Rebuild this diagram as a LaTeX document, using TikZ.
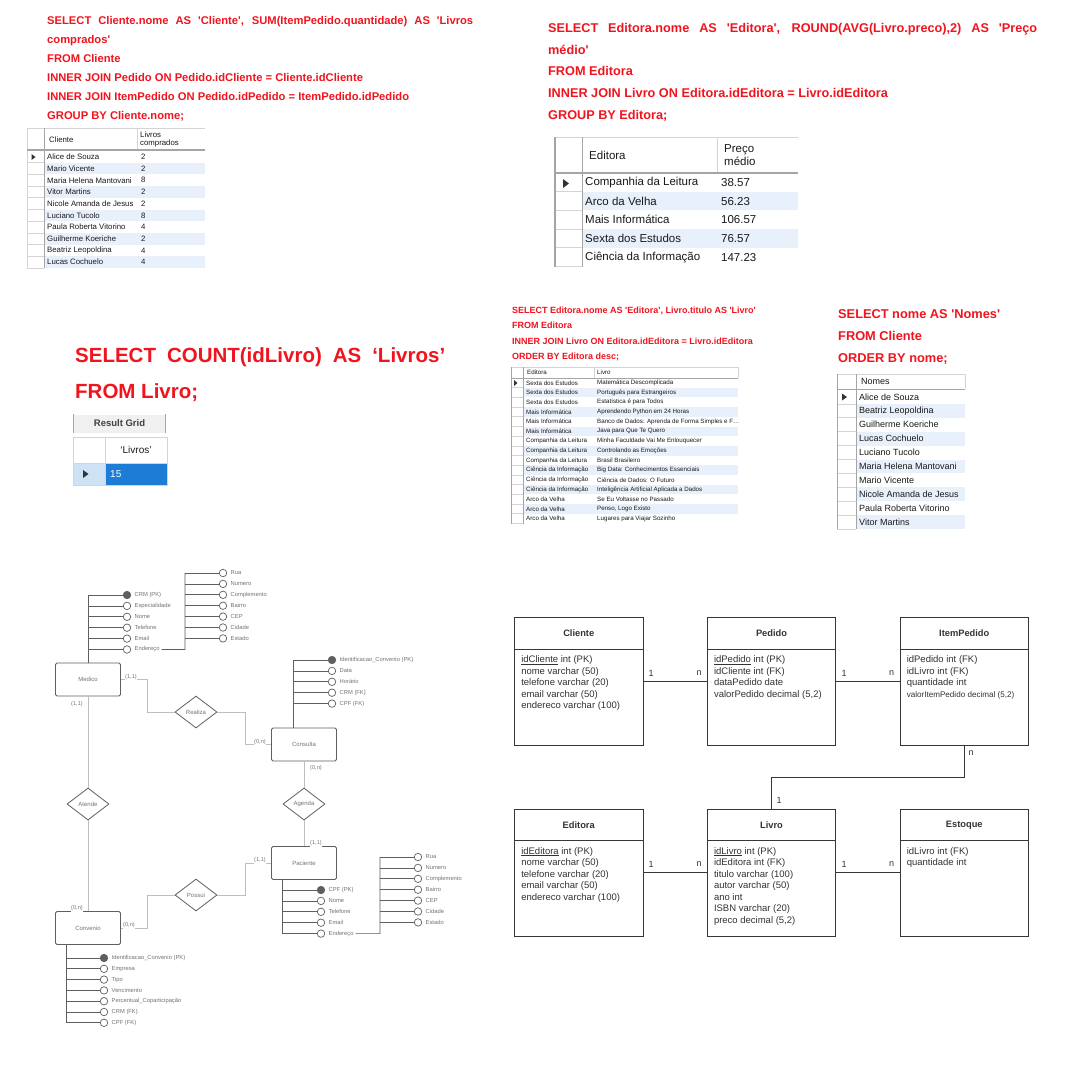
\documentclass[tikz,border=0pt]{standalone}
\usepackage{fontspec}
\newfontfamily\lib{Liberation Sans}
\usetikzlibrary{shapes.geometric}
\definecolor{sqlred}{RGB}{240,20,30}
\definecolor{rowblue}{RGB}{232,240,251}
\definecolor{gridln}{RGB}{212,212,212}
\definecolor{hdrln}{RGB}{165,165,165}
\definecolor{selblue}{RGB}{28,124,214}
\definecolor{indblue}{RGB}{206,226,245}
\definecolor{erdark}{RGB}{95,95,95}
\definecolor{errel}{RGB}{190,190,190}
\definecolor{ertext}{RGB}{115,115,115}
\definecolor{tbltext}{RGB}{25,25,25}
\definecolor{mline}{RGB}{55,55,55}
\begin{document}
\begin{tikzpicture}[x=1pt,y=-1pt,font=\lib,
  sqlbase/.style={anchor=base west,inner sep=0pt,text=sqlred},
  sqlA/.style={sqlbase,font=\lib\bfseries\fontsize{11.2}{13}\selectfont},
  sqlB/.style={sqlbase,font=\lib\bfseries\fontsize{12.7}{15}\selectfont},
  sqlC/.style={sqlbase,font=\lib\bfseries\fontsize{20.5}{23}\selectfont},
  sqlD/.style={sqlbase,font=\lib\bfseries\fontsize{9}{11}\selectfont},
  sqlE/.style={sqlbase,font=\lib\bfseries\fontsize{12.8}{15}\selectfont},
  cellA/.style={anchor=west,inner sep=0pt,text=tbltext,font=\lib\fontsize{7.8}{8.8}\selectfont},
  cellB/.style={anchor=west,inner sep=0pt,text=tbltext,font=\lib\fontsize{11.5}{13}\selectfont},
  cellD/.style={anchor=west,inner sep=0pt,text=tbltext,font=\lib\fontsize{6.2}{7}\selectfont},
  cellE/.style={anchor=west,inner sep=0pt,text=tbltext,font=\lib\fontsize{9}{10}\selectfont},
  gridl/.style={draw=gridln,line width=0.7pt},
  hgrid/.style={draw=hdrln,line width=1.2pt},
  ptr/.style={fill=black!80},
  ent/.style={draw=erdark,line width=0.8pt,rounded corners=1.5pt,minimum width=65pt,minimum height=33pt,inner sep=0pt,text=ertext,font=\lib\fontsize{6}{7}\selectfont},
  rel/.style={diamond,aspect=1.3,draw=erdark,line width=0.8pt,minimum width=42pt,minimum height=32pt,inner sep=0pt,text=ertext,font=\lib\fontsize{6}{7}\selectfont},
  attr/.style={circle,draw=erdark,fill=white,line width=0.7pt,minimum size=7.5pt,inner sep=0pt},
  pk/.style={attr,fill=erdark},
  alab/.style={anchor=west,inner sep=0pt,text=ertext,font=\lib\fontsize{5.8}{7}\selectfont},
  card/.style={inner sep=0.6pt,fill=white,text=ertext,font=\lib\fontsize{5.6}{7}\selectfont},
  erl/.style={draw=erdark,line width=0.7pt},
  rell/.style={draw=errel,line width=0.8pt},
  tbl/.style={draw=mline,line width=0.9pt,minimum width=128.5pt,minimum height=127.5pt,inner sep=0pt},
  ttl/.style={inner sep=0pt,text=black!80,font=\lib\bfseries\fontsize{9.3}{11}\selectfont},
  fld/.style={anchor=north west,inner sep=0pt,align=left,text=black!80,font=\lib\fontsize{9.5}{11.5}\selectfont},
  card2/.style={inner sep=0pt,text=black!80,font=\lib\fontsize{9}{11}\selectfont},
  rline/.style={draw=mline,line width=0.9pt}
]
\useasboundingbox[fill=white] (0,0) rectangle (1080,1080);

% ================= Query 1 (top left)
\node[sqlA] (q1a) at (47,24) {\makebox[426pt][s]{SELECT Cliente.nome AS 'Cliente', SUM(ItemPedido.quantidade) AS 'Livros}};
\node[sqlA] (q1b) at (47,43) {comprados'};
\node[sqlA] (q1c) at (47,62) {FROM Cliente};
\node[sqlA] (q1d) at (47,81) {INNER JOIN Pedido ON Pedido.idCliente = Cliente.idCliente};
\node[sqlA] (q1e) at (47,100) {INNER JOIN ItemPedido ON Pedido.idPedido = ItemPedido.idPedido};
\node[sqlA] (q1f) at (47,119) {GROUP BY Cliente.nome;};

\foreach \i in {2,4,6,8,10} \fill[rowblue] (44,{151+11.7*(\i-1)}) rectangle (205,{151+11.7*\i});
\draw[gridl] (27,128) -- (205,128);
\draw[gridl] (27,128) -- (27,268);
\draw[gridl] (137,128) -- (137,150);
\foreach \i in {1,...,10} \draw[gridl] (27,{151+11.7*\i}) -- (44,{151+11.7*\i});
\draw[hgrid] (27,150) -- (205,150);
\draw[draw=hdrln,line width=0.9pt] (44,128) -- (44,268);
\fill[ptr] (31.5,154) -- (35.5,157) -- (31.5,160) -- cycle;
\node[cellA] (t1h1) at (49,139.5) {Cliente};
\node[cellA,align=left] (t1h2) at (140,139.5) {Livros\\comprados};
\foreach \n/\v [count=\i] in {Alice de Souza/2,Mario Vicente/2,Maria Helena Mantovani/8,Vitor Martins/2,Nicole Amanda de Jesus/2,Luciano Tucolo/8,Paula Roberta Vitorino/4,Guilherme Koeriche/2,Beatriz Leopoldina/4,Lucas Cochuelo/4}{
  \node[cellA] (t1n\i) at (47,{151+11.7*(\i-0.5)}) {\n};
  \node[cellA] (t1v\i) at (141,{151+11.7*(\i-0.5)}) {\v};
}

% ================= Query 2 (top right)
\node[sqlB] (q2a) at (548,32.5) {\makebox[489pt][s]{SELECT Editora.nome AS 'Editora', ROUND(AVG(Livro.preco),2) AS 'Preço}};
\node[sqlB] (q2b) at (548,54) {médio'};
\node[sqlB] (q2c) at (548,75.5) {FROM Editora};
\node[sqlB] (q2d) at (548,97.5) {INNER JOIN Livro ON Editora.idEditora = Livro.idEditora};
\node[sqlB] (q2e) at (548,119.5) {GROUP BY Editora;};

\foreach \i in {2,4} \fill[rowblue] (582,{173+18.7*(\i-1)}) rectangle (798,{173+18.7*\i});
\draw[gridl] (555,137) -- (798,137);
\draw[gridl] (717,137) -- (717,173);
\foreach \i in {1,...,5} \draw[gridl] (555,{173+18.7*\i}) -- (582,{173+18.7*\i});
\draw[hgrid] (555,173) -- (798,173);
\draw[hgrid] (555,137) -- (555,267);
\draw[draw=hdrln,line width=1pt] (582,137) -- (582,267);
\fill[ptr] (563,179) -- (569,183.5) -- (563,188) -- cycle;
\node[cellB] (t2h1) at (589,155) {Editora};
\node[cellB,align=left] (t2h2) at (724,155) {Preço\\médio};
\foreach \n/\v [count=\i] in {Companhia da Leitura/38.57,Arco da Velha/56.23,Mais Informática/106.57,Sexta dos Estudos/76.57,Ciência da Informação/147.23}{
  \node[cellB] (t2n\i) at (585,{173+18.7*(\i-0.5)}) {\n};
  \node[cellB] (t2v\i) at (721,{173+18.7*(\i-0.5)}) {\v};
}

% ================= Query 3 (middle left)
\node[sqlC] (q3a) at (75,362) {\makebox[370pt][s]{SELECT COUNT(idLivro) AS ‘Livros’}};
\node[sqlC] (q3b) at (75,398) {FROM Livro;};
\node[fill=black!6,minimum width=91pt,minimum height=18pt,inner sep=0pt,text=black!75,font=\lib\bfseries\fontsize{9.5}{11}\selectfont] (rg) at (119.5,423.5) {Result Grid};
\draw[draw=hdrln,line width=1pt] (rg.north west) -- (rg.south west);
\draw[draw=hdrln,line width=1pt] (rg.north east) -- (rg.south east);
\fill[indblue] (73,463) rectangle (105,485);
\fill[selblue] (105,463) rectangle (167,485);
\draw[gridl] (73,437) rectangle (167,485);
\draw[gridl] (105,437) -- (105,485);
\draw[gridl] (73,463) -- (167,463);
\node[inner sep=0pt,text=tbltext,font=\lib\fontsize{10}{12}\selectfont] (lvh) at (136,450) {‘Livros’};
\node[inner sep=0pt,anchor=west,text=white,font=\lib\fontsize{10}{12}\selectfont] (v15) at (110,474.5) {15};
\fill[ptr] (83,470) -- (88.5,474) -- (83,478) -- cycle;

% ================= Query 4 (middle centre)
\node[sqlD] (q4a) at (512,313) {SELECT Editora.nome AS 'Editora', Livro.titulo AS 'Livro'};
\node[sqlD] (q4b) at (512,328.5) {FROM Editora};
\node[sqlD] (q4c) at (512,344) {INNER JOIN Livro ON Editora.idEditora = Livro.idEditora};
\node[sqlD] (q4d) at (512,359.5) {ORDER BY Editora desc;};
\foreach \i in {2,4,...,14} \fill[rowblue] (523,{378+9.7*(\i-1)}) rectangle (738,{378+9.7*\i});
\draw[gridl] (511,367) -- (738,367);
\draw[gridl] (594,367) -- (594,378);
\draw[gridl] (738,367) -- (738,378);
\foreach \i in {1,...,15} \draw[gridl] (511,{378+9.7*\i}) -- (523,{378+9.7*\i});
\draw[draw=hdrln,line width=0.8pt] (511,378) -- (738,378);
\draw[draw=hdrln,line width=0.8pt] (511,367) -- (511,523.5);
\draw[draw=hdrln,line width=0.6pt] (523,367) -- (523,523.5);
\fill[ptr] (514,380) -- (517.5,383) -- (514,386) -- cycle;
\node[cellD] (t4h1) at (527,372.5) {Editora};
\node[cellD] (t4h2) at (597,372.5) {Livro};
\foreach \e/\l [count=\i] in {Sexta dos Estudos/Matemática Descomplicada,Sexta dos Estudos/Português para Estrangeiros,Sexta dos Estudos/Estatística é para Todos,Mais Informática/Aprendendo Python em 24 Horas,Mais Informática/Banco de Dados: Aprenda de Forma Simples e F…,Mais Informática/Java para Que Te Quero,Companhia da Leitura/Minha Faculdade Vai Me Enlouquecer,Companhia da Leitura/Controlando as Emoções,Companhia da Leitura/Brasil Brasileiro,Ciência da Informação/Big Data: Conhecimentos Essenciais,Ciência da Informação/Ciência de Dados: O Futuro,Ciência da Informação/Inteligência Artificial Aplicada a Dados,Arco da Velha/Se Eu Voltasse no Passado,{Arco da Velha/Penso, Logo Existo},Arco da Velha/Lugares para Viajar Sozinho}{
  \node[cellD] (t4e\i) at (526,{378+9.7*(\i-0.5)}) {\e};
  \node[cellD] (t4l\i) at (597,{378+9.7*(\i-0.5)}) {\l};
}

% ================= Query 5 (middle right)
\node[sqlE] (q5a) at (838,318.5) {SELECT nome AS 'Nomes'};
\node[sqlE] (q5b) at (838,340.5) {FROM Cliente};
\node[sqlE] (q5c) at (838,362.5) {ORDER BY nome;};
\foreach \i in {2,4,6,8,10} \fill[rowblue] (856,{390+13.9*(\i-1)}) rectangle (965,{390+13.9*\i});
\draw[gridl] (837,374) -- (965,374);
\draw[gridl] (965,374) -- (965,389);
\foreach \i in {1,...,10} \draw[gridl] (837,{390+13.9*\i}) -- (856,{390+13.9*\i});
\draw[draw=hdrln,line width=1pt] (837,389) -- (965,389);
\draw[draw=hdrln,line width=1pt] (837,374) -- (837,529);
\draw[draw=hdrln,line width=0.7pt] (856,374) -- (856,529);
\fill[ptr] (842,393.5) -- (847,397) -- (842,400.5) -- cycle;
\node[cellE] (t5h) at (861,381.5) {Nomes};
\foreach \n [count=\i] in {Alice de Souza,Beatriz Leopoldina,Guilherme Koeriche,Lucas Cochuelo,Luciano Tucolo,Maria Helena Mantovani,Mario Vicente,Nicole Amanda de Jesus,Paula Roberta Vitorino,Vitor Martins}
  \node[cellE] (t5n\i) at (859,{390+13.9*(\i-0.5)}) {\n};

% ================= Conceptual ER diagram
\node[ent] (med) at (88,679.5) {Medico};
\node[ent] (con) at (304,744.5) {Consulta};
\node[ent] (pac) at (304,863) {Paciente};
\node[ent] (cnv) at (88,928) {Convenio};
\node[rel] (rea) at (196,712) {Realiza};
\node[rel] (age) at (304,804) {Agenda};
\node[rel] (ate) at (88,804) {Atende};
\node[rel] (pos) at (196,895) {Possui};

\draw[rell] (med.east) -- (147,679.5) |- (rea.west);
\draw[rell] (rea.east) -- (245,712) |- (con.west);
\draw[rell] (con.south) -- (age.north);
\draw[rell] (age.south) -- (pac.north);
\draw[rell] (pac.west) -- (245,863) |- (pos.east);
\draw[rell] (pos.west) -- (147,895) |- (cnv.east);
\draw[rell] (med.south) -- (ate.north);
\draw[rell] (ate.south) -- (cnv.north);

\node[card] (c1) at (131,677) {(1,1)};
\node[card] (c2) at (260,742) {(0,n)};
\node[card] (c3) at (316,768) {(0,n)};
\node[card] (c4) at (316,843.5) {(1,1)};
\node[card] (c5) at (260,860.5) {(1,1)};
\node[card] (c6) at (129,925.5) {(0,n)};
\node[card] (c7) at (77,704) {(1,1)};
\node[card] (c8) at (77,908.5) {(0,n)};

% Medico attributes
\draw[erl] (med.north) -- (88,595);
\foreach \a/\s [count=\i from 0] in {CRM (PK)/pk,Especialidade/attr,Nome/attr,Telefone/attr,Email/attr,Endereço/attr}{
  \node[\s] (ma\i) at (127,{595+10.9*\i}) {};
  \node[alab] (mal\i) at (134.5,{595+10.9*\i}) {\a};
  \draw[erl] (88,{595+10.9*\i}) -- (ma\i.west);
}
\draw[erl] ([xshift=2pt]mal5.east) -- (185,649.5) -- (185,573);
\foreach \a [count=\i from 0] in {Rua,Numero,Complemento,Bairro,CEP,Cidade,Estado}{
  \node[attr] (mb\i) at (223,{573+10.9*\i}) {};
  \node[alab] (mbl\i) at (230.5,{573+10.9*\i}) {\a};
  \draw[erl] (185,{573+10.9*\i}) -- (mb\i.west);
}

% Consulta attributes
\draw[erl] ([xshift=-11pt]con.north) -- (293,660);
\foreach \a/\s [count=\i from 0] in {Identificacao\_Convenio (PK)/pk,Data/attr,Horário/attr,CRM (FK)/attr,CPF (FK)/attr}{
  \node[\s] (ca\i) at (332,{660+10.9*\i}) {};
  \node[alab] (cal\i) at (339.5,{660+10.9*\i}) {\a};
  \draw[erl] (293,{660+10.9*\i}) -- (ca\i.west);
}

% Paciente attributes
\draw[erl] ([xshift=-22pt]pac.south) -- (282,933.6);
\foreach \a/\s [count=\i from 0] in {CPF (PK)/pk,Nome/attr,Telefone/attr,Email/attr,Endereço/attr}{
  \node[\s] (pa\i) at (321,{890+10.9*\i}) {};
  \node[alab] (pal\i) at (328.5,{890+10.9*\i}) {\a};
  \draw[erl] (282,{890+10.9*\i}) -- (pa\i.west);
}
\draw[erl] ([xshift=2pt]pal4.east) -- (380,933.6) -- (380,857);
\foreach \a [count=\i from 0] in {Rua,Numero,Complemento,Bairro,CEP,Cidade,Estado}{
  \node[attr] (pb\i) at (418,{857+10.9*\i}) {};
  \node[alab] (pbl\i) at (425.5,{857+10.9*\i}) {\a};
  \draw[erl] (380,{857+10.9*\i}) -- (pb\i.west);
}

% Convenio attributes
\draw[erl] ([xshift=-22pt]cnv.south) -- (66,1022.8);
\foreach \a/\s [count=\i from 0] in {Identificacao\_Convenio (PK)/pk,Empresa/attr,Tipo/attr,Vencimento/attr,Percentual\_Coparticipação/attr,CRM (FK)/attr,CPF (FK)/attr}{
  \node[\s] (va\i) at (104,{958+10.8*\i}) {};
  \node[alab] (val\i) at (111.5,{958+10.8*\i}) {\a};
  \draw[erl] (66,{958+10.8*\i}) -- (va\i.west);
}

% ================= Logical model (bottom right)
\node[tbl] (cli) at (578.75,681.25) {};
\node[tbl] (ped) at (771.5,681.25) {};
\node[tbl] (itp) at (964.25,681.25) {};
\node[tbl] (edi) at (578.75,872.75) {};
\node[tbl] (liv) at (771.5,872.75) {};
\node[tbl] (est) at (964.25,872.75) {};
\foreach \b in {cli,ped,itp,edi,liv,est} \draw[rline] ([yshift=-32pt]\b.north west) -- ([yshift=-32pt]\b.north east);
\node[ttl] (clit) at (578.75,633.5) {Cliente};
\node[ttl] (pedt) at (771.5,633.5) {Pedido};
\node[ttl] (itpt) at (964.25,633.5) {ItemPedido};
\node[ttl] (edit) at (578.75,825) {Editora};
\node[ttl] (livt) at (771.5,825) {Livro};
\node[ttl] (estt) at (964.25,825) {Estoque};

\node[fld] (clif) at ([xshift=7pt,yshift=-38.5pt]cli.north west) {\underline{idCliente} int (PK)\\nome varchar (50)\\telefone varchar (20)\\email varchar (50)\\endereco varchar (100)};
\node[fld] (pedf) at ([xshift=7pt,yshift=-38.5pt]ped.north west) {\underline{idPedido} int (PK)\\idCliente int (FK)\\dataPedido date\\valorPedido decimal (5,2)};
\node[fld] (itpf) at ([xshift=7pt,yshift=-38.5pt]itp.north west) {idPedido int (FK)\\idLivro int (FK)\\quantidade int\\{\fontsize{8.1}{11.5}\selectfont valorItemPedido decimal (5,2)}};
\node[fld] (edif) at ([xshift=7pt,yshift=-38.5pt]edi.north west) {\underline{idEditora} int (PK)\\nome varchar (50)\\telefone varchar (20)\\email varchar (50)\\endereco varchar (100)};
\node[fld] (livf) at ([xshift=7pt,yshift=-38.5pt]liv.north west) {\underline{idLivro} int (PK)\\idEditora int (FK)\\titulo varchar (100)\\autor varchar (50)\\ano int\\ISBN varchar (20)\\preco decimal (5,2)};
\node[fld] (estf) at ([xshift=7pt,yshift=-38.5pt]est.north west) {idLivro int (FK)\\quantidade int};

\draw[rline] ([yshift=-64pt]cli.north east) -- ([yshift=-64pt]ped.north west);
\draw[rline] ([yshift=-64pt]ped.north east) -- ([yshift=-64pt]itp.north west);
\draw[rline] ([yshift=-64pt]edi.north east) -- ([yshift=-64pt]liv.north west);
\draw[rline] ([yshift=-64pt]liv.north east) -- ([yshift=-64pt]est.north west);
\draw[rline] (itp.south) -- ++(0,32) -| (liv.north);

\node[card2] (k1) at (651,673) {1};
\node[card2] (k2) at (699,673) {n};
\node[card2] (k3) at (844,673) {1};
\node[card2] (k4) at (891.5,673) {n};
\node[card2] (k5) at (651,864.5) {1};
\node[card2] (k6) at (699,864.5) {n};
\node[card2] (k7) at (844,864.5) {1};
\node[card2] (k8) at (891.5,864.5) {n};
\node[card2] (k9) at (971,753) {n};
\node[card2] (k10) at (779,800) {1};
\end{tikzpicture}
\end{document}
